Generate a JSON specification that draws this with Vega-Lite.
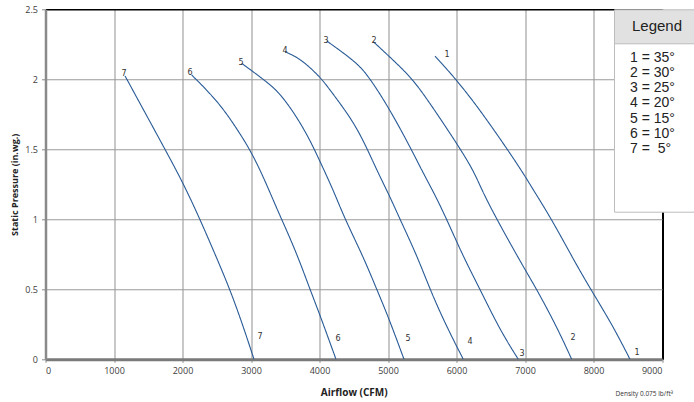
{
  "$schema": "https://vega.github.io/schema/vega-lite/v6.json",
  "autosize": {"type": "none"},
  "width": 616.5,
  "height": 350,
  "padding": {"left": 45.5, "top": 9.3, "right": 32, "bottom": 42.7},
  "background": "white",
  "title": {"text": "Density 0.075 lb/ft³", "orient": "bottom", "anchor": "end", "frame": "group", "fontSize": 6.5, "fontWeight": "normal", "font": "Open Sans", "color": "#333333", "dx": 11, "offset": -6},
  "datasets": {
    "settings": [
      {"curve": 1, "blade": "1 = 35°"},
      {"curve": 2, "blade": "2 = 30°"},
      {"curve": 3, "blade": "3 = 25°"},
      {"curve": 4, "blade": "4 = 20°"},
      {"curve": 5, "blade": "5 = 15°"},
      {"curve": 6, "blade": "6 = 10°"},
      {"curve": 7, "blade": "7 = \u00a05°"}
    ],
    "curves": [
      {"curve": 7, "airflow": 1161, "pressure": 2.024},
      {"curve": 7, "airflow": 1745, "pressure": 1.5},
      {"curve": 7, "airflow": 2012, "pressure": 1.257},
      {"curve": 7, "airflow": 2255, "pressure": 1.0},
      {"curve": 7, "airflow": 2450, "pressure": 0.78},
      {"curve": 7, "airflow": 2693, "pressure": 0.5},
      {"curve": 7, "airflow": 2888, "pressure": 0.233},
      {"curve": 7, "airflow": 3044, "pressure": 0.0},
      {"curve": 6, "airflow": 2134, "pressure": 2.031},
      {"curve": 6, "airflow": 2499, "pressure": 1.852},
      {"curve": 6, "airflow": 2742, "pressure": 1.686},
      {"curve": 6, "airflow": 2985, "pressure": 1.5},
      {"curve": 6, "airflow": 3180, "pressure": 1.304},
      {"curve": 6, "airflow": 3375, "pressure": 1.079},
      {"curve": 6, "airflow": 3448, "pressure": 1.0},
      {"curve": 6, "airflow": 3667, "pressure": 0.757},
      {"curve": 6, "airflow": 3861, "pressure": 0.5},
      {"curve": 6, "airflow": 4007, "pressure": 0.316},
      {"curve": 6, "airflow": 4241, "pressure": 0.0},
      {"curve": 5, "airflow": 2864, "pressure": 2.114},
      {"curve": 5, "airflow": 3229, "pressure": 1.983},
      {"curve": 5, "airflow": 3423, "pressure": 1.9},
      {"curve": 5, "airflow": 3667, "pressure": 1.733},
      {"curve": 5, "airflow": 3861, "pressure": 1.566},
      {"curve": 5, "airflow": 3997, "pressure": 1.424},
      {"curve": 5, "airflow": 4201, "pressure": 1.209},
      {"curve": 5, "airflow": 4372, "pressure": 1.0},
      {"curve": 5, "airflow": 4639, "pressure": 0.733},
      {"curve": 5, "airflow": 4835, "pressure": 0.5},
      {"curve": 5, "airflow": 5004, "pressure": 0.304},
      {"curve": 5, "airflow": 5234, "pressure": 0.0},
      {"curve": 4, "airflow": 3496, "pressure": 2.197},
      {"curve": 4, "airflow": 3715, "pressure": 2.15},
      {"curve": 4, "airflow": 4007, "pressure": 2.019},
      {"curve": 4, "airflow": 4153, "pressure": 1.924},
      {"curve": 4, "airflow": 4445, "pressure": 1.733},
      {"curve": 4, "airflow": 4639, "pressure": 1.566},
      {"curve": 4, "airflow": 4835, "pressure": 1.352},
      {"curve": 4, "airflow": 5029, "pressure": 1.161},
      {"curve": 4, "airflow": 5175, "pressure": 1.0},
      {"curve": 4, "airflow": 5419, "pressure": 0.745},
      {"curve": 4, "airflow": 5613, "pressure": 0.5},
      {"curve": 4, "airflow": 5832, "pressure": 0.257},
      {"curve": 4, "airflow": 6099, "pressure": 0.0},
      {"curve": 3, "airflow": 4105, "pressure": 2.274},
      {"curve": 3, "airflow": 4493, "pressure": 2.138},
      {"curve": 3, "airflow": 4689, "pressure": 2.043},
      {"curve": 3, "airflow": 5004, "pressure": 1.804},
      {"curve": 3, "airflow": 5321, "pressure": 1.519},
      {"curve": 3, "airflow": 5515, "pressure": 1.329},
      {"curve": 3, "airflow": 5686, "pressure": 1.175},
      {"curve": 3, "airflow": 5857, "pressure": 1.0},
      {"curve": 3, "airflow": 6099, "pressure": 0.733},
      {"curve": 3, "airflow": 6343, "pressure": 0.5},
      {"curve": 3, "airflow": 6635, "pressure": 0.209},
      {"curve": 3, "airflow": 6902, "pressure": 0.0},
      {"curve": 2, "airflow": 4785, "pressure": 2.269},
      {"curve": 2, "airflow": 5127, "pressure": 2.114},
      {"curve": 2, "airflow": 5370, "pressure": 1.995},
      {"curve": 2, "airflow": 5613, "pressure": 1.829},
      {"curve": 2, "airflow": 6003, "pressure": 1.543},
      {"curve": 2, "airflow": 6245, "pressure": 1.352},
      {"curve": 2, "airflow": 6368, "pressure": 1.21},
      {"curve": 2, "airflow": 6587, "pressure": 1.0},
      {"curve": 2, "airflow": 6975, "pressure": 0.661},
      {"curve": 2, "airflow": 7171, "pressure": 0.5},
      {"curve": 2, "airflow": 7463, "pressure": 0.233},
      {"curve": 2, "airflow": 7682, "pressure": 0.0},
      {"curve": 1, "airflow": 5686, "pressure": 2.166},
      {"curve": 1, "airflow": 6003, "pressure": 1.995},
      {"curve": 1, "airflow": 6343, "pressure": 1.781},
      {"curve": 1, "airflow": 6733, "pressure": 1.507},
      {"curve": 1, "airflow": 6975, "pressure": 1.329},
      {"curve": 1, "airflow": 7121, "pressure": 1.21},
      {"curve": 1, "airflow": 7390, "pressure": 1.0},
      {"curve": 1, "airflow": 7755, "pressure": 0.67},
      {"curve": 1, "airflow": 7997, "pressure": 0.47},
      {"curve": 1, "airflow": 8289, "pressure": 0.233},
      {"curve": 1, "airflow": 8533, "pressure": 0.0}
    ],
    "labels": [
      {"curve": 7, "airflow": 1146, "pressure": 2.038},
      {"curve": 6, "airflow": 2109, "pressure": 2.045},
      {"curve": 5, "airflow": 2854, "pressure": 2.116},
      {"curve": 4, "airflow": 3496, "pressure": 2.2},
      {"curve": 3, "airflow": 4095, "pressure": 2.273},
      {"curve": 2, "airflow": 4796, "pressure": 2.273},
      {"curve": 1, "airflow": 5861, "pressure": 2.174},
      {"curve": 7, "airflow": 3131, "pressure": 0.159},
      {"curve": 6, "airflow": 4270, "pressure": 0.145},
      {"curve": 5, "airflow": 5292, "pressure": 0.145},
      {"curve": 4, "airflow": 6197, "pressure": 0.124},
      {"curve": 3, "airflow": 6956, "pressure": 0.038},
      {"curve": 2, "airflow": 7701, "pressure": 0.152},
      {"curve": 1, "airflow": 8635, "pressure": 0.045}
    ]
  },
  "encoding": {
    "x": {
      "field": "airflow", "type": "quantitative",
      "scale": {"domain": [0, 9000], "nice": false, "zero": true},
      "axis": {
        "title": "Airflow (CFM)",
        "values": [0, 1000, 2000, 3000, 4000, 5000, 6000, 7000, 8000, 9000],
        "format": "d",
        "grid": true,
        "gridColor": {"condition": {"test": "datum.value === 9000", "value": "#000000"}, "value": "#9a9a9a"},
        "gridWidth": {"condition": {"test": "datum.value === 9000", "value": 2}, "value": 1.1},
        "domainColor": "#7a7a7a", "domainWidth": 3,
        "tickColor": "#8a8a8a", "tickSize": 3,
        "labelPadding": 4,
        "titlePadding": 12
      }
    },
    "y": {
      "field": "pressure", "type": "quantitative",
      "scale": {"domain": [0, 2.5], "nice": false},
      "axis": {
        "title": "Static Pressure (in.wg.)",
        "values": [0, 0.5, 1, 1.5, 2, 2.5],
        "format": "~g",
        "grid": true,
        "gridColor": {"condition": {"test": "datum.value === 2.5", "value": "#000000"}, "value": "#9a9a9a"},
        "gridWidth": {"condition": {"test": "datum.value === 2.5", "value": 1.5}, "value": 1.1},
        "domainColor": "#8a8a8a", "domainWidth": 2.5,
        "tickColor": "#8a8a8a", "tickSize": 4,
        "labelPadding": 4,
        "titlePadding": 5
      }
    }
  },
  "layer": [
    {
      "data": {"name": "curves"},
      "transform": [
        {"lookup": "curve", "from": {"data": {"name": "settings"}, "key": "curve", "fields": ["blade"]}}
      ],
      "mark": {"type": "line", "strokeWidth": 1.1, "clip": true, "interpolate": "basis"},
      "encoding": {
        "color": {
          "field": "blade", "type": "nominal",
          "scale": {
            "domain": ["1 = 35°", "2 = 30°", "3 = 25°", "4 = 20°", "5 = 15°", "6 = 10°", "7 = \u00a05°"],
            "range": ["#285a96", "#285a96", "#285a96", "#285a96", "#285a96", "#285a96", "#285a96"]
          },
          "legend": {
            "orient": "none", "legendX": 568.5, "legendY": 32.4,
            "title": " ", "titleOrient": "bottom", "titlePadding": 36.8, "titleFontSize": 10,
            "fillColor": "#ffffff", "strokeColor": "#bdbdbd",
            "padding": 9,
            "symbolType": "square", "symbolSize": 0, "symbolStrokeWidth": 0, "symbolOpacity": 0, "symbolOffset": 95,
            "labelOffset": -102, "labelFontSize": 14, "labelFont": "Liberation Sans", "labelColor": "#222222",
            "rowPadding": 1.2
          }
        },
        "strokeDash": {
          "datum": "Legend",
          "scale": {"range": [[1, 0]]},
          "legend": {
            "orient": "none", "legendX": 568.5, "legendY": 0,
            "title": null,
            "fillColor": "#e1e1e1", "strokeColor": "#bdbdbd",
            "padding": 9,
            "symbolType": "square", "symbolSize": 0, "symbolStrokeWidth": 0, "symbolOpacity": 0, "symbolOffset": 95,
            "labelOffset": -101, "labelFontSize": 15, "labelFont": "Liberation Sans", "labelColor": "#222222"
          }
        }
      }
    },
    {
      "data": {"name": "labels"},
      "mark": {"type": "text", "fontSize": 8, "font": "DejaVu Sans", "color": "#333333", "align": "center", "baseline": "middle"},
      "encoding": {
        "text": {"field": "curve", "type": "nominal"}
      }
    }
  ],
  "config": {
    "view": {"stroke": null},
    "axis": {
      "labelFont": "Open Sans", "labelFontSize": 9, "labelColor": "#404040",
      "titleFont": "Open Sans", "titleFontWeight": "bold", "titleColor": "#222222"
    },
    "axisX": {"titleFontSize": 10},
    "axisY": {"titleFontSize": 9}
  }
}
